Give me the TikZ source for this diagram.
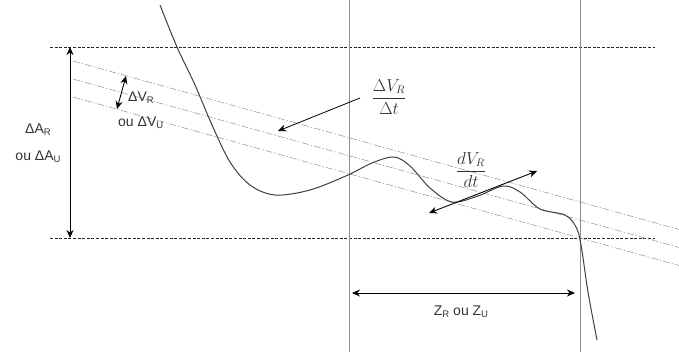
\documentclass[tikz,border=0pt]{standalone}
\usepackage{fontspec}
\setmainfont{Liberation Sans}
\usetikzlibrary{arrows.meta}
\newcommand\lsub[1]{\raisebox{-0.3ex}{\fontsize{9.5}{11}\selectfont #1}}
\begin{document}
\begin{tikzpicture}[x=1pt,y=-1pt,
  bound/.style={line width=0.9pt, dash pattern=on 3pt off 1.6pt, black!85},
  guide/.style={line width=0.5pt, black!45},
  ddot/.style={line width=0.55pt, black!40, dash pattern=on 7pt off 2pt on 1.5pt off 2pt},
  dbl/.style={line width=1pt, {Stealth[length=8pt,width=7pt]}-{Stealth[length=8pt,width=7pt]}},
  sgl/.style={line width=0.8pt, -{Stealth[length=8pt,width=7pt]}},
  curve/.style={line width=1pt, black!75},
  lbl/.style={font=\fontsize{14}{16}\selectfont, inner sep=1pt, text=black!80},
  frc/.style={font=\fontsize{16}{18}\selectfont, inner sep=1pt, text=black!80}]
\useasboundingbox (0,0) rectangle (679,352);
% boundary dashed lines
\coordinate (tl) at (50,47); \coordinate (tr) at (655,47);
\coordinate (bl) at (50,238); \coordinate (br) at (655,238);
\draw[bound] (tl) -- (tr);
\draw[bound] (bl) -- (br);
% vertical guides
\coordinate (v1t) at (349,0); \coordinate (v1b) at (349,352);
\coordinate (v2t) at (580,0); \coordinate (v2b) at (580,352);
\draw[guide] (v1t) -- (v1b);
\draw[guide] (v2t) -- (v2b);
% dash-dot sloped lines
\coordinate (d1a) at (73,61); \coordinate (d1b) at (679,229.5);
\coordinate (d2a) at (73,79); \coordinate (d2b) at (679,247.5);
\coordinate (d3a) at (73,97); \coordinate (d3b) at (679,265.5);
\draw[ddot] (d1a) -- (d1b);
\draw[ddot] (d2a) -- (d2b);
\draw[ddot] (d3a) -- (d3b);
% curve
\draw[curve] plot[smooth, tension=0.55] coordinates {
 (160,5) (177,47) (195,85) (212,125) (230,162) (250,185) (275,195)
 (310,190) (348,175) (372,163) (394,157) (410,166) (430,188) (452,202)
 (478,196) (503,186) (520,192) (540,209) (565,215) (576,227) (581,245)
 (588,292) (597,340)};
% Delta A arrow
\coordinate (aT) at (70,47); \coordinate (aB) at (70,238);
\draw[dbl] (aT) -- (aB);
\node[lbl] (dA1) at (38,130) {ΔA\lsub{R}};
\node[lbl] (dA2) at (38,157) {ou ΔA\lsub{U}};
% Delta V arrow
\coordinate (vT) at (126,76); \coordinate (vB) at (117,109);
\draw[dbl, line width=0.9pt] (vT) -- (vB);
\node[lbl, anchor=west] (dV1) at (127,98) {ΔV\lsub{R}};
\node[lbl, anchor=west] (dV2) at (117,123) {ou ΔV\lsub{U}};
% Delta V / Delta t
\node[frc] (fr1) at (389,97) {$\displaystyle\frac{\Delta V_R}{\Delta t}$};
\coordinate (fr1s) at (360,98);
\coordinate (fr1tip) at (278,131);
\draw[sgl] (fr1s) -- (fr1tip);
% dV/dt tangent
\node[frc] (fr2) at (471,170) {$\displaystyle\frac{dV_R}{dt}$};
\coordinate (tA) at (429,213); \coordinate (tB) at (537,171);
\draw[dbl, line width=0.9pt] (tA) -- (tB);
% Z arrow
\coordinate (zL) at (352,293); \coordinate (zR) at (575,293);
\draw[dbl] (zL) -- (zR);
\node[lbl] (zl) at (461,312) {Z\lsub{R} ou Z\lsub{U}};
\end{tikzpicture}
\end{document}
